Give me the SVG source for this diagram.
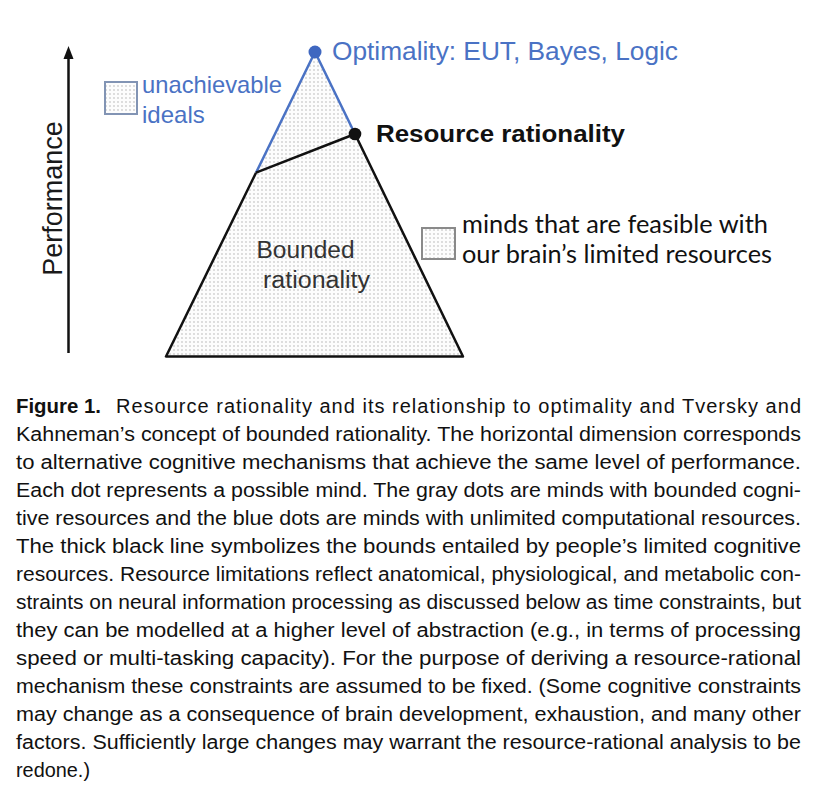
<svg xmlns="http://www.w3.org/2000/svg" width="814" height="797" viewBox="0 0 814 797">
<style>
.cap{font-family:"Liberation Sans",Arial,sans-serif;font-size:20px;fill:#111}
.capb{font-family:"Liberation Sans",Arial,sans-serif;font-size:20px;font-weight:bold;fill:#111}
.blue{font-family:"Liberation Sans",Arial,sans-serif;fill:#4a72c4}
.lbl{font-family:"Liberation Sans",Arial,sans-serif}
.leg{font-family:Lato,"Open Sans",sans-serif;font-size:25px;fill:#111}
</style>
<defs>
<pattern id="dots" width="4" height="4" patternUnits="userSpaceOnUse">
<rect width="4" height="4" fill="#fdfdfd"/>
<circle cx="2" cy="2" r="0.65" fill="#a4a4a4"/>
</pattern>
</defs>
<rect width="814" height="797" fill="#ffffff"/>

<g id="connectors">
<line x1="68.5" y1="353" x2="68.5" y2="56" stroke="#111" stroke-width="2.5"/>
<polygon points="68.5,46 63.5,59 73.5,59" fill="#111"/>
</g>

<g id="axis-label">
<text class="lbl" font-size="27" fill="#1a1a1a" text-anchor="middle" transform="translate(62,198.5) rotate(-90)">Performance</text>
</g>

<g id="pyramid">
<polygon points="315,52 166,356.5 463,356.5" fill="url(#dots)"/>
<polyline points="256,172.7 315,52 355,134" fill="none" stroke="#4a72c4" stroke-width="2.5" stroke-linejoin="round"/>
<polyline points="256,172.7 166,356.5 463,356.5 355,134 256,172.7" fill="none" stroke="#111" stroke-width="2.5" stroke-linejoin="round"/>
<circle cx="315" cy="52" r="6.5" fill="#3f67c0"/>
<circle cx="355" cy="134" r="6.3" fill="#111"/>
</g>

<g id="bounded">
<text class="lbl" font-size="23.5" fill="#333" x="256.5" y="258" textLength="98" lengthAdjust="spacingAndGlyphs">Bounded</text>
<text class="lbl" font-size="23.5" fill="#333" x="263" y="288" textLength="107" lengthAdjust="spacingAndGlyphs">rationality</text>
</g>

<g id="optimality">
<text class="blue" font-size="26" x="332" y="59.5" textLength="346" lengthAdjust="spacingAndGlyphs">Optimality: EUT, Bayes, Logic</text>
</g>

<g id="resource-rationality">
<text class="lbl" font-size="23" font-weight="bold" fill="#111" x="376" y="141.5" textLength="249" lengthAdjust="spacingAndGlyphs">Resource rationality</text>
</g>

<g id="legend-unachievable">
<rect x="105" y="82" width="32" height="32" fill="url(#dots)" stroke="#8294b4" stroke-width="2"/>
<text class="blue" font-size="24" x="142" y="93.3" textLength="140" lengthAdjust="spacingAndGlyphs">unachievable</text>
<text class="blue" font-size="24" x="142" y="123.3">ideals</text>
</g>

<g id="legend-feasible">
<rect x="422" y="228" width="33" height="31" fill="url(#dots)" stroke="#8a8a8a" stroke-width="2"/>
<text class="leg" x="462" y="233.3" textLength="306" lengthAdjust="spacingAndGlyphs">minds that are feasible with</text>
<text class="leg" x="462" y="263" textLength="310" lengthAdjust="spacingAndGlyphs">our brain’s limited resources</text>
</g>

<g id="caption">
<text class="capb" x="16" y="413" textLength="85" lengthAdjust="spacingAndGlyphs">Figure 1.</text>
<text class="cap" x="116" y="413" textLength="685" lengthAdjust="spacing">Resource rationality and its relationship to optimality and Tversky and</text>
<text class="cap" x="16" y="441" textLength="785" lengthAdjust="spacingAndGlyphs">Kahneman’s concept of bounded rationality. The horizontal dimension corresponds</text>
<text class="cap" x="16" y="469" textLength="785" lengthAdjust="spacingAndGlyphs">to alternative cognitive mechanisms that achieve the same level of performance.</text>
<text class="cap" x="16" y="497" textLength="785" lengthAdjust="spacingAndGlyphs">Each dot represents a possible mind. The gray dots are minds with bounded cogni-</text>
<text class="cap" x="16" y="525" textLength="785" lengthAdjust="spacingAndGlyphs">tive resources and the blue dots are minds with unlimited computational resources.</text>
<text class="cap" x="16" y="553" textLength="785" lengthAdjust="spacingAndGlyphs">The thick black line symbolizes the bounds entailed by people’s limited cognitive</text>
<text class="cap" x="16" y="581" textLength="785" lengthAdjust="spacingAndGlyphs">resources. Resource limitations reflect anatomical, physiological, and metabolic con-</text>
<text class="cap" x="16" y="609" textLength="785" lengthAdjust="spacingAndGlyphs">straints on neural information processing as discussed below as time constraints, but</text>
<text class="cap" x="16" y="637" textLength="785" lengthAdjust="spacingAndGlyphs">they can be modelled at a higher level of abstraction (e.g., in terms of processing</text>
<text class="cap" x="16" y="665" textLength="785" lengthAdjust="spacingAndGlyphs">speed or multi-tasking capacity). For the purpose of deriving a resource-rational</text>
<text class="cap" x="16" y="693" textLength="785" lengthAdjust="spacingAndGlyphs">mechanism these constraints are assumed to be fixed. (Some cognitive constraints</text>
<text class="cap" x="16" y="721" textLength="785" lengthAdjust="spacingAndGlyphs">may change as a consequence of brain development, exhaustion, and many other</text>
<text class="cap" x="16" y="749" textLength="785" lengthAdjust="spacingAndGlyphs">factors. Sufficiently large changes may warrant the resource-rational analysis to be</text>
<text class="cap" x="16" y="777" textLength="74" lengthAdjust="spacingAndGlyphs">redone.)</text>
</g>
</svg>
